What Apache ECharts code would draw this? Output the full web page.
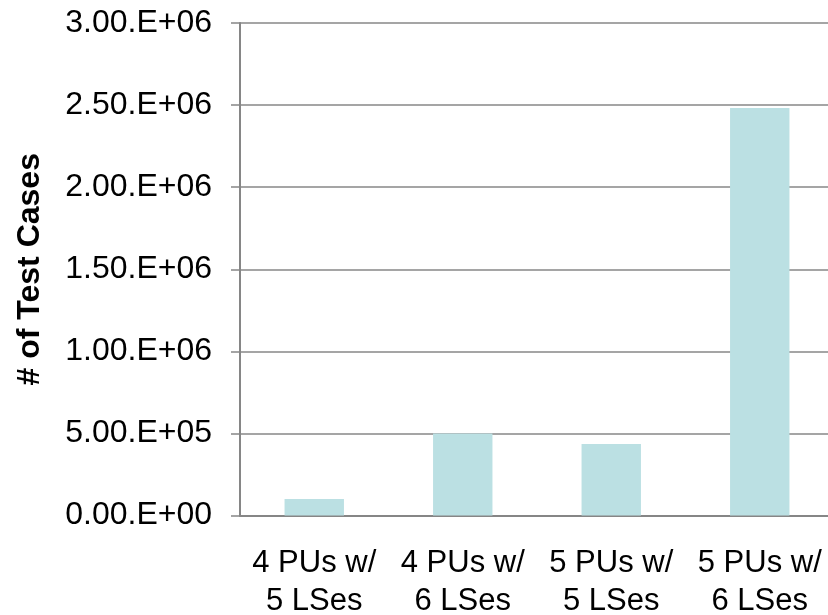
<!DOCTYPE html>
<html>
<head>
<meta charset="utf-8">
<script src="https://cdn.jsdelivr.net/npm/echarts@6/dist/echarts.min.js"></script>
<style>
html,body{margin:0;padding:0;background:#fff;}
#chart{width:828px;height:615px;}
</style>
</head>
<body>
<div id="chart"></div>
<script>
const categories = ['4 PUs w/\n5 LSes', '4 PUs w/\n6 LSes', '5 PUs w/\n5 LSes', '5 PUs w/\n6 LSes'];
const testCases = [100000, 500000, 435000, 2482000];
const yAxisTitle = '# of Test Cases';
const yMin = 0, yMax = 3000000, yStep = 500000;

function sciLabel(v) {
  if (v === 0) return '0.00.E+00';
  const e = Math.floor(Math.log10(v) + 1e-9);
  const m = v / Math.pow(10, e);
  const es = (e < 10 ? '0' : '') + e;
  return m.toFixed(2) + '.E+' + es;
}

const chart = echarts.init(document.getElementById('chart'), null, {renderer: 'canvas'});
const FONT = '"Liberation Sans", Arial, sans-serif';
chart.setOption({
  animation: false,
  backgroundColor: '#ffffff',
  grid: {left: 240, right: -6, top: 23, bottom: 99.5, containLabel: false, outerBoundsMode: 'none'},
  xAxis: {
    type: 'category',
    data: categories,
    axisLine: {show: true, lineStyle: {color: '#868686', width: 2}},
    axisTick: {show: false},
    axisLabel: {
      interval: 0, margin: 29, color: '#000000',
      fontFamily: FONT, fontSize: 31, lineHeight: 38
    },
    splitLine: {show: false}
  },
  yAxis: {
    type: 'value',
    min: yMin, max: yMax, interval: yStep,
    name: yAxisTitle,
    nameLocation: 'middle',
    nameGap: 194,
    nameTextStyle: {fontFamily: FONT, fontSize: 32, fontWeight: 'bold', color: '#000000'},
    axisLine: {show: true, lineStyle: {color: '#868686', width: 2}},
    axisTick: {show: true, inside: false, length: 9, lineStyle: {color: '#868686', width: 1.5}},
    axisLabel: {
      margin: 28, color: '#000000', fontFamily: FONT, fontSize: 32,
      formatter: sciLabel
    },
    splitLine: {show: true, lineStyle: {color: '#878787', width: 1.5}}
  },
  series: [{
    type: 'bar',
    data: testCases,
    barWidth: '40%',
    itemStyle: {color: '#BBE0E3'}
  }]
});
</script>
</body>
</html>
